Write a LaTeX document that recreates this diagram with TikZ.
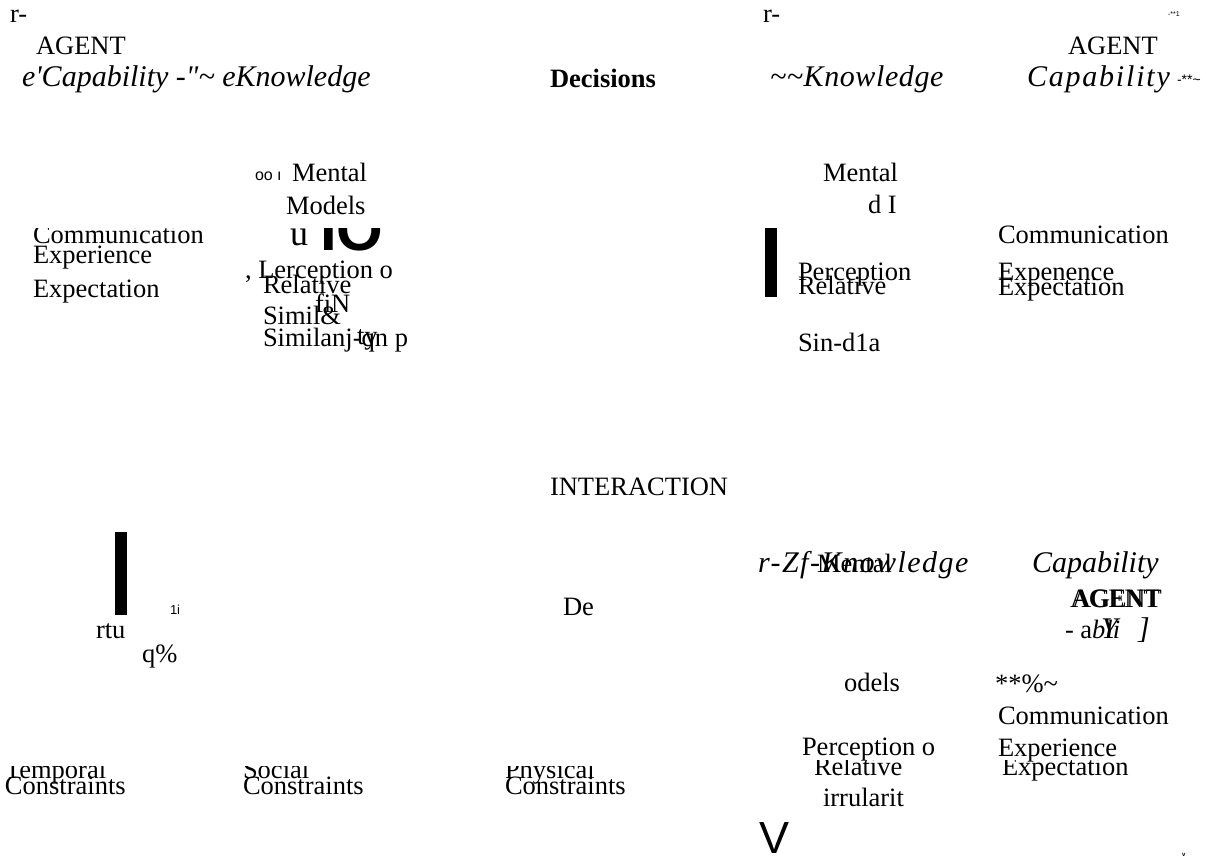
\documentclass[tikz,border=0pt]{standalone}
\usepackage{fontspec}
\setmainfont{Liberation Serif}
\setsansfont{Liberation Sans}
\usepackage{tikz}
\tikzset{
	textnode/.style = {anchor=base west, inner sep=0pt, outer sep=0pt, font=\fontsize{26.5}{26.5}\selectfont},
	slanted/.style = {textnode, font=\fontsize{30}{30}\selectfont\itshape\addfontfeature{LetterSpace=#1}},
	slanted/.default = 0,
	heavy/.style = {textnode, font=\fontsize{26.5}{26.5}\selectfont\bfseries},
	sanstext/.style = {textnode, font=\fontsize{#1}{#1}\selectfont\sffamily},
	sized/.style = {textnode, font=\fontsize{#1}{#1}\selectfont},
	blackbar/.style = {fill=black, draw=none}
}

\begin{document}
\begin{tikzpicture}[x=1pt, y=-1pt]
\useasboundingbox (0,0) rectangle (1206,859);

% upper left agent
\node [textnode] (rleft) at (10,23) {r-};
\node [textnode] (agentleft) at (36,55) {AGENT};
\node [slanted] (capleft) at (22,86) {e\textquotesingle Capability -\textquotedbl\textasciitilde{} eKnowledge};
\node [sanstext=16] (ooleft) at (255,180) {oo ı};
\node [textnode] (mentalleft) at (292,181) {Mental};
\node [textnode] (modelsleft) at (286,214) {Models};
\begin{scope}
	\clip (0,228) rectangle (420,320);
	\node [textnode] (commleft) at (33,243) {Communication};
	\node [sized=36] (uleft) at (290,245) {u};
	\node [sanstext=60] (ioleft) at (320,250) {\bfseries IO};
\end{scope}
\node [textnode] (expleft) at (33,263) {Experience};
\node [textnode] (expectleft) at (33,297) {Expectation};
\node [textnode] (percleft) at (245,278) {, Lerception o};
\node [textnode] (relleft) at (263,293) {Relative};
\node [textnode] (fileft) at (315,312) {fiN};
\node [textnode] (simleft) at (263,324) {Simil\&};
\node [textnode] (simileft) at (263,346) {Similanj-qn p};
\node [textnode] (tyleft) at (357,344) {ty};

% decisions
\node [heavy] (decisions) at (550,87) {Decisions};

% upper right agent
\node [textnode] (rright) at (763,23) {r-};
\node [sanstext=7] (markright) at (1168,17) {-**1};
\node [textnode] (agentright) at (1068,55) {AGENT};
\node [slanted=2] (knowright) at (770,86) {\textasciitilde\textasciitilde Knowledge};
\node [slanted=6] (capright) at (1027,86) {Capability};
\node [sanstext=14] (starright) at (1177,84) {-**\textasciitilde};
\node [textnode] (mentalright) at (823,181) {Mental};
\node [textnode] (diright) at (868,213) {d I};
\fill [blackbar] (765,228) rectangle (777,297);
\node [textnode] (percright) at (798,280) {Perception};
\node [textnode] (relright) at (798,294) {Relative};
\node [textnode] (simright) at (798,351) {Sin-d1a};
\node [textnode] (commright) at (998,243) {Communication};
\node [textnode] (expright) at (998,280) {Expenence};
\node [textnode] (expectright) at (998,295) {Expectation};

% interaction
\node [textnode] (interaction) at (550,495) {INTERACTION};

% lower left
\fill [blackbar] (115,532) rectangle (127,615);
\node [sanstext=13] (oneileft) at (170,614) {1i};
\node [textnode] (rtu) at (96,638) {rtu};
\node [textnode] (qpct) at (142,662) {q\%};
\node [textnode] (de) at (563,615) {De};

% lower right agent
\node [slanted=5] (knowlow) at (758,572) {r-Zf-Knowledge};
\node [textnode] (mentallow) at (817,572) {Mental};
\node [slanted] (caplow) at (1032,572) {Capability};
\node [textnode] (agentlow) at (1070,607) {AGENT};
\node [textnode] (agentlowb) at (1072,607) {AGENT};
\node [textnode] (ablilow) at (1065,638) {- a\textit{bli}};
\node [slanted] (ylow) at (1101,638) {Y};
\node [slanted] (brlow) at (1138,638) {]};
\node [textnode] (odelslow) at (844,691) {odels};
\node [textnode] (starlow) at (995,692) {**\%\textasciitilde};
\node [textnode] (commlow) at (998,724) {Communication};
\node [textnode] (perclow) at (802,755) {Perception o};
\node [textnode] (explow) at (998,756) {Experience};
\begin{scope}
	\clip (790,760) rectangle (1206,800);
	\node [textnode] (rellow) at (814,775) {Relative};
	\node [textnode] (expectlow) at (1002,775) {Expectation};
\end{scope}
\node [textnode] (irrlow) at (823,806) {irrularit};
\node [sanstext=45] (vlow) at (759,853) {V};
\node [sanstext=6] (vsmall) at (1182,856) {\bfseries v};

% constraints
\begin{scope}
	\clip (0,766) rectangle (700,800);
	\node [textnode] (temporal) at (5,778) {Temporal};
	\node [textnode] (social) at (243,778) {Social};
	\node [textnode] (physical) at (505,778) {Physical};
\end{scope}
\node [textnode] (constemp) at (5,794) {Constraints};
\node [textnode] (conssoc) at (243,794) {Constraints};
\node [textnode] (consphys) at (505,794) {Constraints};
\end{tikzpicture}
\end{document}
